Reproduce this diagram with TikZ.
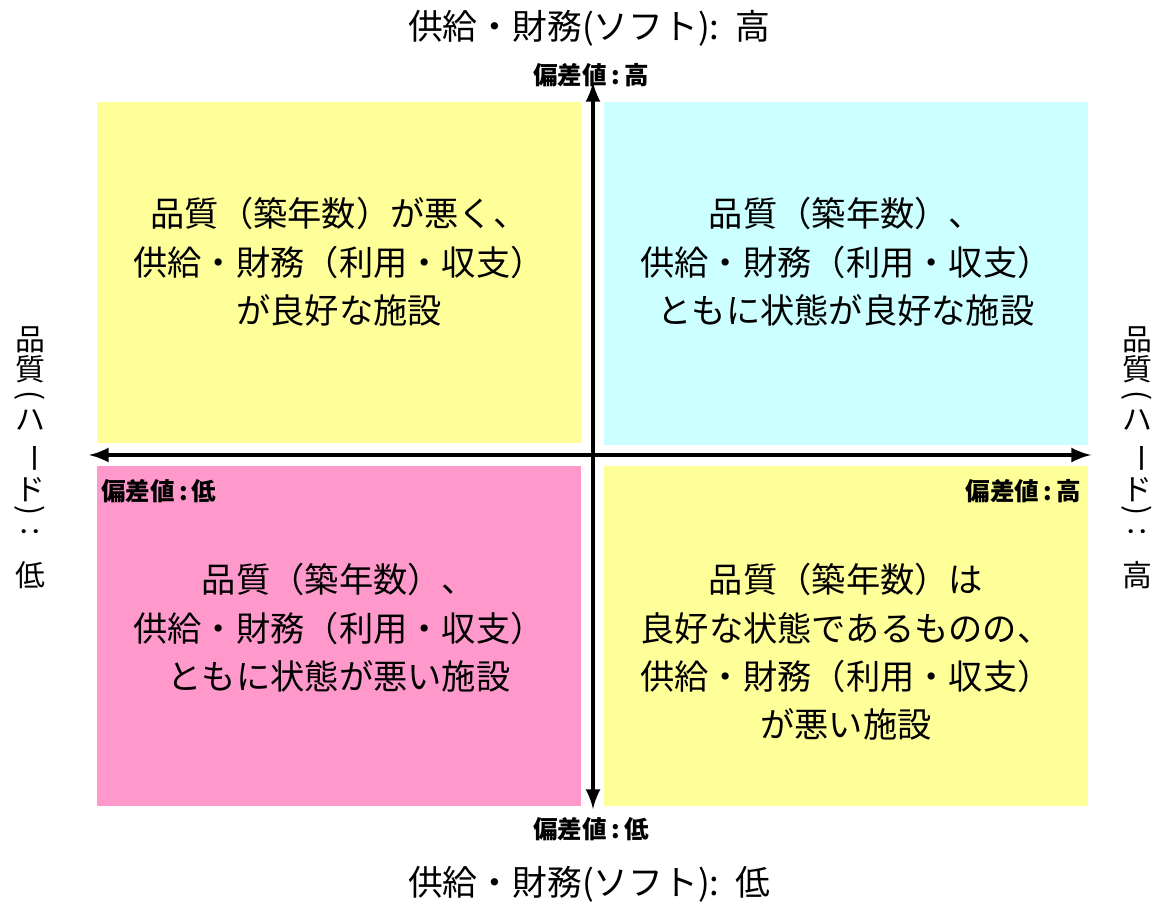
\documentclass[tikz,border=0pt]{standalone}
\usepackage{fontspec}
\setmainfont{Noto Sans CJK JP}
\usepackage{tikz}

\definecolor{quadyellow}{HTML}{FFFF99}
\definecolor{quadcyan}{HTML}{CCFFFF}
\definecolor{quadpink}{HTML}{FF99CC}

\newcommand{\vrot}[1]{\rotatebox[origin=c]{-90}{#1}}

\tikzset{
  quadtext/.style={align=center, inner sep=0pt, font=\fontsize{19.5}{27.5}\selectfont},
  scorelabel/.style={inner sep=0pt, font=\fontsize{14}{16}\selectfont\bfseries},
  axistitle/.style={inner sep=0pt, font=\fontsize{19.8}{22}\selectfont},
  sidechar/.style={inner sep=0pt, font=\fontsize{17}{18}\selectfont}
}

\begin{document}
\begin{tikzpicture}[x=0.02cm, y=-0.02cm]
\useasboundingbox (0,0) rectangle (1159,902);
% Four quadrant boxes
\fill[quadyellow] (97,102) rectangle (581,443);
\fill[quadcyan] (604,102) rectangle (1088,445);
\fill[quadpink] (97,466) rectangle (581,806);
\fill[quadyellow] (604,466) rectangle (1088,806);
% Axis end points
\coordinate (top) at (593,82);
\coordinate (bottom) at (593,809);
\coordinate (left) at (89,455);
\coordinate (right) at (1091,455);
% Axes
\draw[line width=2.8pt, <->, >=latex] (bottom) -- (top);
\draw[line width=2.8pt, <->, >=latex] (left) -- (right);
% Quadrant texts
\node[quadtext] (tl) at (339,262) {品質（築年数）が悪く、\\供給・財務（利用・収支）\\が良好な施設};
\node[quadtext] (tr) at (846,262) {品質（築年数）、\\供給・財務（利用・収支）\\ともに状態が良好な施設};
\node[quadtext] (bl) at (339,628) {品質（築年数）、\\供給・財務（利用・収支）\\ともに状態が悪い施設};
\node[quadtext] (br) at (846,652) {品質（築年数）は\\良好な状態であるものの、\\供給・財務（利用・収支）\\が悪い施設};
% Score labels
\node[scorelabel] (sctop) at (591,75) {偏差値\,:\,高};
\node[scorelabel] (scbottom) at (591,829) {偏差値\,:\,低};
\node[scorelabel, anchor=west] (scleft) at (101,491) {偏差値\,:\,低};
\node[scorelabel, anchor=east] (scright) at (1081,491) {偏差値\,:\,高};
% Axis titles
\node[axistitle] (ttop) at (589,28) {供給・財務(ソフト):\ \ 高};
\node[axistitle] (tbottom) at (589,884) {供給・財務(ソフト):\ \ 低};
% Vertical side titles, one character at a time
\foreach \ch/\yy [count=\i] in {品/340, 質/369, \vrot{(}/398, ハ/420, \vrot{ー}/458, ド/490, \vrot{)}/513, \vrot{:}/533} {
  \node[sidechar] (hl\i) at (30,\yy) {\ch};
  \node[sidechar] (hr\i) at (1137,\yy) {\ch};
}
\node[sidechar] (hllow) at (30,575) {低};
\node[sidechar] (hrhigh) at (1137,575) {高};
\end{tikzpicture}
\end{document}
